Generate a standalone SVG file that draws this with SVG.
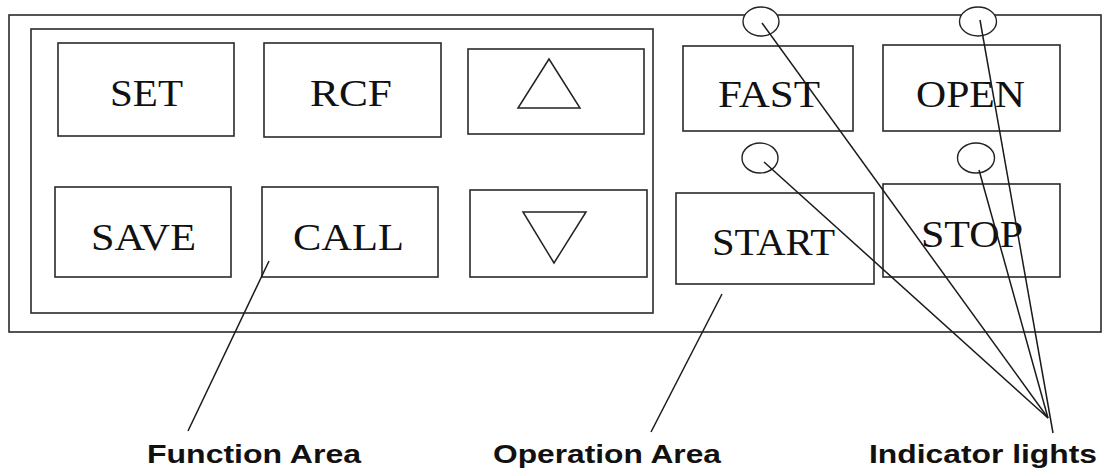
<svg xmlns="http://www.w3.org/2000/svg" width="1104" height="468" viewBox="0 0 1104 468">
<style>
.frame{fill:none;stroke:#2a2a2a;stroke-width:1.6}
.btn{fill:#fff;stroke:#2a2a2a;stroke-width:1.6}
.tri{fill:none;stroke:#222;stroke-width:1.5;stroke-linejoin:miter}
.lamp{fill:none;stroke:#222;stroke-width:1.4}
.lbl{font-family:"Liberation Serif","Times New Roman",serif;font-size:37px;fill:#111}
.cap{font-family:"Liberation Sans",Arial,sans-serif;font-size:25px;font-weight:bold;fill:#111}
.conn line{stroke:#1a1a1a;stroke-width:1.5}
</style>
<rect width="1104" height="468" fill="#fff"/>
<g id="panel"><rect class="frame" x="9" y="15" width="1092" height="317"/></g>
<g id="function-area"><rect class="frame" x="31" y="29" width="622" height="284"/></g>
<g id="btn-set"><rect class="btn" x="58" y="43" width="176" height="93"/><text class="lbl" x="110" y="106" textLength="73" lengthAdjust="spacingAndGlyphs">SET</text></g>
<g id="btn-rcf"><rect class="btn" x="264" y="43" width="177" height="94"/><text class="lbl" x="310" y="106" textLength="82" lengthAdjust="spacingAndGlyphs">RCF</text></g>
<g id="btn-up"><rect class="btn" x="468" y="49" width="176" height="85"/><polygon class="tri" points="549,59 518,108 580,108"/></g>
<g id="btn-save"><rect class="btn" x="55" y="187" width="176" height="90"/><text class="lbl" x="91" y="250" textLength="105" lengthAdjust="spacingAndGlyphs">SAVE</text></g>
<g id="btn-call"><rect class="btn" x="262" y="187" width="176" height="90"/><text class="lbl" x="293" y="250" textLength="111" lengthAdjust="spacingAndGlyphs">CALL</text></g>
<g id="btn-down"><rect class="btn" x="470" y="190" width="177" height="87"/><polygon class="tri" points="523,212 586,212 554,263"/></g>
<g id="btn-fast"><rect class="btn" x="683" y="46" width="170" height="85"/><text class="lbl" x="718" y="107" textLength="102" lengthAdjust="spacingAndGlyphs">FAST</text></g>
<g id="btn-open"><rect class="btn" x="883" y="45" width="177" height="86"/><text class="lbl" x="916" y="107" textLength="109" lengthAdjust="spacingAndGlyphs">OPEN</text></g>
<g id="btn-start"><rect class="btn" x="676" y="193" width="198" height="91"/><text class="lbl" x="712" y="255" textLength="123" lengthAdjust="spacingAndGlyphs">START</text></g>
<g id="btn-stop"><rect class="btn" x="883" y="184" width="177" height="93"/><text class="lbl" x="921" y="247" textLength="102" lengthAdjust="spacingAndGlyphs">STOP</text></g>
<g id="lamp-fast"><ellipse class="lamp" cx="761" cy="21.5" rx="18" ry="14.5" fill="#fff" style="fill:#fff"/></g>
<g id="lamp-open"><ellipse class="lamp" cx="978" cy="21.5" rx="18.5" ry="14.5" style="fill:#fff"/></g>
<g id="lamp-start"><ellipse class="lamp" cx="760" cy="158" rx="18" ry="15"/></g>
<g id="lamp-stop"><ellipse class="lamp" cx="976" cy="158" rx="18.5" ry="15"/></g>
<g id="connectors" class="conn">
<line x1="269" y1="261" x2="188" y2="431"/>
<line x1="722" y1="294" x2="651" y2="432"/>
<line x1="762" y1="23" x2="1048" y2="418"/>
<line x1="764" y1="162" x2="1048" y2="418"/>
<line x1="980" y1="20" x2="1053" y2="433"/>
<line x1="979" y1="170" x2="1048" y2="418"/>
</g>
<g id="caption-function"><text class="cap" x="147" y="463" textLength="214" lengthAdjust="spacingAndGlyphs">Function Area</text></g>
<g id="caption-operation"><text class="cap" x="493" y="463" textLength="228" lengthAdjust="spacingAndGlyphs">Operation Area</text></g>
<g id="caption-indicator"><text class="cap" x="869" y="463" textLength="228" lengthAdjust="spacingAndGlyphs">Indicator lights</text></g>
</svg>
